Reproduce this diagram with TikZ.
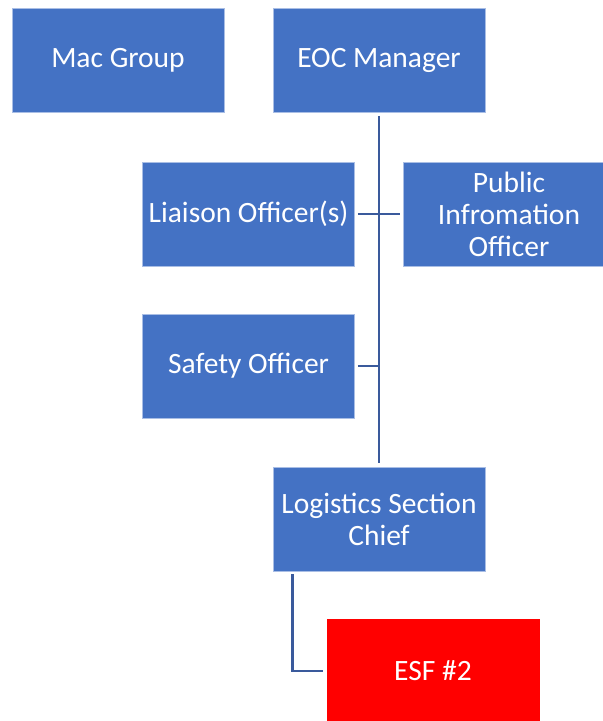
\documentclass[tikz,border=0pt]{standalone}
\usepackage{fontspec}
\setmainfont{Carlito}
\definecolor{boxblue}{HTML}{4472C4}
\definecolor{boxedge}{HTML}{A9BEE5}
\definecolor{linkblue}{HTML}{3A5A9C}
\definecolor{esfred}{HTML}{FF0000}
\tikzset{
  orgbox/.style={rectangle, fill=boxblue, draw=boxedge, line width=0.8pt,
    minimum width=212pt, minimum height=104pt, inner sep=0pt,
    text=white, align=center,
    font=\fontsize{29.5}{32}\selectfont},
  link/.style={draw=linkblue, line width=2.5pt}
}
\begin{document}
\begin{tikzpicture}[x=1pt,y=-1pt]
\useasboundingbox (0,0) rectangle (603,721);
\node[orgbox] (mac) at (118,60.5) {Mac Group};
\node[orgbox] (eoc) at (379,60.5) {EOC Manager};
\node[orgbox] (lia) at (248.5,214) {Liaison Officer(s)};
\node[orgbox] (pub) at (509,214) {Public\\Infromation\\Officer};
\node[orgbox] (saf) at (248.5,366) {Safety Officer};
\node[orgbox] (log) at (379,519) {Logistics Section\\Chief};
\node[orgbox, fill=esfred, draw=esfred] (esf) at (433,671) {ESF \#2};
\draw[link] ([yshift=-3pt]eoc.south) -- ([yshift=4pt]log.north);
\draw[link] ([xshift=3pt]lia.east) -- ([xshift=-3pt]pub.west);
\draw[link] ([xshift=3pt]saf.east) -- (saf.east -| eoc.south);
\draw[link] ([xshift=20pt,yshift=-3pt]log.south west) |- ([xshift=-4pt]esf.west);
\end{tikzpicture}
\end{document}
